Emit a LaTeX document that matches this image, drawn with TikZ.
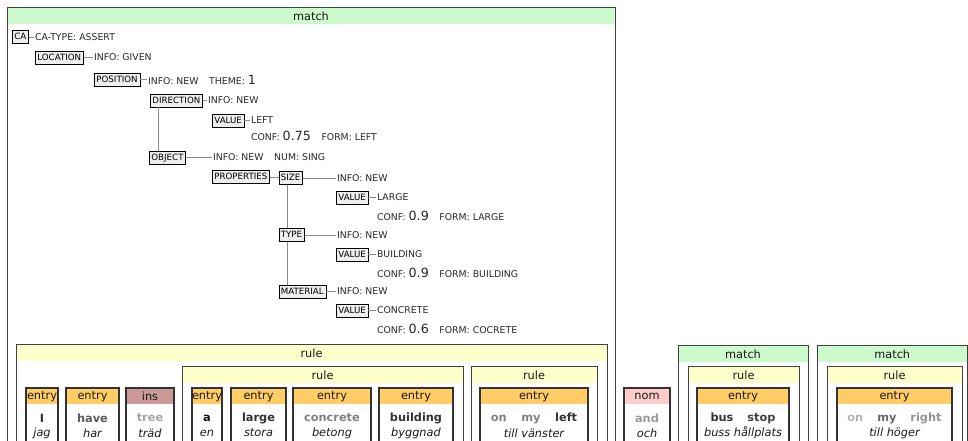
\documentclass[tikz,border=0pt]{standalone}
\usepackage{fontspec}
\setmainfont{DejaVu Sans}
\usetikzlibrary{shadows}

\definecolor{matchgreen}{HTML}{CCFACC}
\definecolor{ruleyellow}{HTML}{FFFFCC}
\definecolor{entryorange}{HTML}{FFCC66}
\definecolor{insrose}{HTML}{CC9999}
\definecolor{nompink}{HTML}{FFCCCC}
\definecolor{featfill}{HTML}{EEEEEE}
\definecolor{linkgray}{HTML}{8A8A8A}

% feature names and values in small capitals, numbers a size up
\newcommand{\capsz}[1]{{\fontsize{7}{8}\selectfont #1}}
\newcommand{\numsz}[1]{{\fontsize{9.5}{10}\selectfont #1}}
\newcommand{\gap}{\hspace{8pt}}

\tikzset{
  feat/.style={draw, fill=featfill, anchor=west, inner xsep=1.6pt, inner ysep=2pt,
    text height=5pt, text depth=0.6pt, font=\fontsize{6.5}{7}\selectfont,
    drop shadow={shadow xshift=0.6pt, shadow yshift=-0.6pt, opacity=1, fill=black!80}},
  attr/.style={anchor=west, inner sep=0.6pt, text=black!85, font=\fontsize{7}{8}\selectfont},
  link/.style={draw=linkgray, line width=0.6pt},
  panelline/.style={draw=black!75, line width=0.6pt},
  entryline/.style={draw=black!80, line width=0.8pt},
  title/.style={inner sep=0pt, text=black!90, font=\fontsize{8.5}{10}\selectfont},
  word/.style={inner sep=0pt, font=\fontsize{8.5}{10}\selectfont\bfseries},
  gloss/.style={inner sep=0pt, text=black!90, font=\fontsize{8.5}{10}\selectfont\itshape},
}

% framed panel with a coloured title strip: name, left, right, top, fill, title
\newcommand{\boxpanel}[6]{%
  \fill[#5] (#2,#4) rectangle (#3,#4+17);
  \draw[panelline] (#2,#4) rectangle (#3,480);
  \node[title] (#1) at ({(#2+#3)/2},#4+9) {#6};
}

% lexicon entry: name, left, right, strip fill, title, words, gloss
\newcommand{\entrybox}[7]{%
  \fill[#4] (#2,388) rectangle (#3,404);
  \draw[entryline] (#2,388) rectangle (#3,480);
  \node[title] (#1-head) at ({(#2+#3)/2},396.5) {#5};
  \node[word] (#1-word) at ({(#2+#3)/2},418) {#6};
  \node[gloss] (#1-gloss) at ({(#2+#3)/2},433) {#7};
}

\begin{document}
\begin{tikzpicture}[x=0.75pt, y=-0.75pt]
  \useasboundingbox (0,0) rectangle (968,440);
  \clip (0,0) rectangle (968,440);

  % top match with the feature tree
  \boxpanel{m1}{7}{615}{7}{matchgreen}{match}

  \node[feat] (ca) at (12,37) {CA};
  \node[attr] (ca-type) at (34,37) {\capsz{CA-TYPE: ASSERT}};
  \node[feat] (loc) at (35,57.5) {LOCATION};
  \node[attr] (loc-info) at (93,57.5) {INFO: GIVEN};
  \node[feat] (pos) at (94,79.5) {POSITION};
  \node[attr] (pos-info) at (147,79.5) {INFO: NEW\gap THEME: \numsz{1}};
  \node[feat] (dir) at (150,100.5) {DIRECTION};
  \node[attr] (dir-info) at (207,100.5) {INFO: NEW};
  \node[feat] (dir-val) at (212,120.5) {VALUE};
  \node[attr] (dir-left) at (250,120.5) {LEFT};
  \node[attr] (dir-conf) at (250,136) {CONF: \numsz{0.75}\gap FORM: LEFT};
  \node[feat] (obj) at (149,157.5) {OBJECT};
  \node[attr] (obj-info) at (212,157.5) {INFO: NEW\gap NUM: SING};
  \node[feat] (props) at (212,177) {PROPERTIES};
  \node[feat] (size) at (278.5,178) {SIZE};
  \node[attr] (size-info) at (336,178) {INFO: NEW};
  \node[feat] (size-val) at (336,197.5) {VALUE};
  \node[attr] (size-large) at (376,197.5) {LARGE};
  \node[attr] (size-conf) at (376,216) {CONF: \numsz{0.9}\gap FORM: LARGE};
  \node[feat] (type) at (278.5,235) {TYPE};
  \node[attr] (type-info) at (336,235) {INFO: NEW};
  \node[feat] (type-val) at (336,254.5) {VALUE};
  \node[attr] (type-bldg) at (376,254.5) {BUILDING};
  \node[attr] (type-conf) at (376,273) {CONF: \numsz{0.9}\gap FORM: BUILDING};
  \node[feat] (mat) at (278.5,291.5) {MATERIAL};
  \node[attr] (mat-info) at (336,291.5) {INFO: NEW};
  \node[feat] (mat-val) at (336,310.5) {VALUE};
  \node[attr] (mat-conc) at (376,310.5) {CONCRETE};
  \node[attr] (mat-conf) at (376,329) {CONF: \numsz{0.6}\gap FORM: COCRETE};

  \draw[link] (ca) -- (ca-type);
  \draw[link] (loc) -- (loc-info);
  \draw[link] (pos) -- (pos-info);
  \draw[link] (dir) -- (dir-info);
  \draw[link] (dir-val) -- (dir-left);
  \draw[link] (obj) -- (obj-info);
  \draw[link] (props) -- (props -| size.west);
  \draw[link] (size) -- (size-info);
  \draw[link] (size-val) -- (size-large);
  \draw[link] (type) -- (type-info);
  \draw[link] (type-val) -- (type-bldg);
  \draw[link] (mat) -- (mat-info);
  \draw[link] (mat-val) -- (mat-conc);
  \draw[link] ([xshift=6pt]dir.south west) -- ([xshift=6pt]dir.south west |- obj.north);
  \draw[link] ([xshift=6.5pt]size.south west) -- ([xshift=6.5pt]size.south west |- type.north);
  \draw[link] ([xshift=6.5pt]type.south west) -- ([xshift=6.5pt]type.south west |- mat.north);

  % rules and entries below
  \boxpanel{r1}{16}{607}{344}{ruleyellow}{rule}
  \boxpanel{r2}{182}{463}{366}{ruleyellow}{rule}
  \boxpanel{r3}{471}{597}{366}{ruleyellow}{rule}

  \entrybox{e1}{26}{58}{entryorange}{entry}{\textcolor{black!80}{I}}{jag}
  \entrybox{e2}{66}{119}{entryorange}{entry}{\textcolor{black!65}{have}}{har}
  \entrybox{e3}{126}{174}{insrose}{ins}{\textcolor{black!35}{tree}}{träd}
  \entrybox{e4}{192}{222}{entryorange}{entry}{\textcolor{black!95}{a}}{en}
  \entrybox{e5}{231}{286}{entryorange}{entry}{\textcolor{black!80}{large}}{stora}
  \entrybox{e6}{293}{371}{entryorange}{entry}{\textcolor{black!50}{concrete}}{betong}
  \entrybox{e7}{379}{453}{entryorange}{entry}{\textcolor{black!80}{building}}{byggnad}
  \entrybox{e8}{480}{588}{entryorange}{entry}{\textcolor{black!50}{on}\hspace{11pt}\textcolor{black!50}{my}\hspace{11pt}\textcolor{black!80}{left}}{till vänster}

  \entrybox{e9}{624}{670}{nompink}{nom}{\textcolor{black!40}{and}}{och}

  \boxpanel{m2}{678}{808}{345}{matchgreen}{match}
  \boxpanel{r4}{688}{799}{366}{ruleyellow}{rule}
  \entrybox{e10}{697}{789}{entryorange}{entry}{\textcolor{black!80}{bus}\hspace{10.5pt}\textcolor{black!75}{stop}}{buss hållplats}

  \boxpanel{m3}{817}{967.5}{345}{matchgreen}{match}
  \boxpanel{r5}{827}{962}{366}{ruleyellow}{rule}
  \entrybox{e11}{837}{952}{entryorange}{entry}{\textcolor{black!30}{on}\hspace{10.5pt}\textcolor{black!60}{my}\hspace{10.5pt}\textcolor{black!42}{right}}{till höger}
\end{tikzpicture}
\end{document}
